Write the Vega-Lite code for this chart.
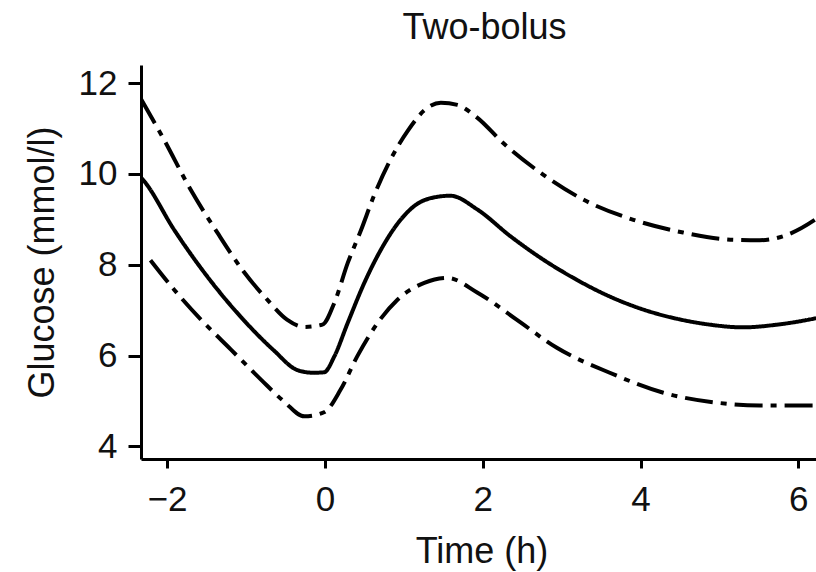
{
  "$schema": "https://vega.github.io/schema/vega-lite/v6.json",
  "autosize": {"type": "none"},
  "padding": {"left": 141, "top": 65, "right": 0, "bottom": 113},
  "width": 681,
  "height": 394,
  "background": "white",
  "config": {"view": {"stroke": null}, "font": "Liberation Sans"},
  "title": {"text": "Two-bolus", "fontSize": 36, "fontWeight": "normal", "font": "Liberation Sans", "color": "#111", "anchor": "middle", "frame": "group", "baseline": "alphabetic", "offset": -10, "dx": 3},
  "data": {"values": [
    {"t": -2.33, "g": 9.92, "s": "mean"},
    {"t": -2.29, "g": 9.84, "s": "mean"},
    {"t": -1.91, "g": 8.77, "s": "mean"},
    {"t": -1.49, "g": 7.74, "s": "mean"},
    {"t": -1.07, "g": 6.86, "s": "mean"},
    {"t": -0.645, "g": 6.11, "s": "mean"},
    {"t": -0.35, "g": 5.68, "s": "mean"},
    {"t": -0.15, "g": 5.62, "s": "mean"},
    {"t": -0.01, "g": 5.63, "s": "mean"},
    {"t": 0.12, "g": 5.98, "s": "mean"},
    {"t": 0.29, "g": 6.72, "s": "mean"},
    {"t": 0.5, "g": 7.6, "s": "mean"},
    {"t": 0.71, "g": 8.33, "s": "mean"},
    {"t": 0.96, "g": 8.99, "s": "mean"},
    {"t": 1.17, "g": 9.34, "s": "mean"},
    {"t": 1.35, "g": 9.47, "s": "mean"},
    {"t": 1.59, "g": 9.52, "s": "mean"},
    {"t": 1.93, "g": 9.22, "s": "mean"},
    {"t": 2.35, "g": 8.63, "s": "mean"},
    {"t": 2.77, "g": 8.11, "s": "mean"},
    {"t": 3.19, "g": 7.67, "s": "mean"},
    {"t": 3.61, "g": 7.3, "s": "mean"},
    {"t": 4.04, "g": 7.01, "s": "mean"},
    {"t": 4.46, "g": 6.81, "s": "mean"},
    {"t": 4.88, "g": 6.68, "s": "mean"},
    {"t": 5.3, "g": 6.62, "s": "mean"},
    {"t": 5.73, "g": 6.68, "s": "mean"},
    {"t": 6.19, "g": 6.81, "s": "mean"},
    {"t": 6.3, "g": 6.85, "s": "mean"},
    {"t": -2.33, "g": 11.65, "s": "upper"},
    {"t": -2.29, "g": 11.53, "s": "upper"},
    {"t": -2.04, "g": 10.76, "s": "upper"},
    {"t": -1.7, "g": 9.65, "s": "upper"},
    {"t": -1.36, "g": 8.7, "s": "upper"},
    {"t": -1.03, "g": 7.85, "s": "upper"},
    {"t": -0.73, "g": 7.23, "s": "upper"},
    {"t": -0.48, "g": 6.79, "s": "upper"},
    {"t": -0.26, "g": 6.63, "s": "upper"},
    {"t": -0.03, "g": 6.68, "s": "upper"},
    {"t": 0.12, "g": 7.16, "s": "upper"},
    {"t": 0.29, "g": 8.04, "s": "upper"},
    {"t": 0.46, "g": 8.77, "s": "upper"},
    {"t": 0.62, "g": 9.51, "s": "upper"},
    {"t": 0.83, "g": 10.31, "s": "upper"},
    {"t": 1.05, "g": 10.95, "s": "upper"},
    {"t": 1.26, "g": 11.4, "s": "upper"},
    {"t": 1.47, "g": 11.57, "s": "upper"},
    {"t": 1.68, "g": 11.52, "s": "upper"},
    {"t": 1.93, "g": 11.24, "s": "upper"},
    {"t": 2.26, "g": 10.68, "s": "upper"},
    {"t": 2.77, "g": 9.98, "s": "upper"},
    {"t": 3.28, "g": 9.43, "s": "upper"},
    {"t": 3.91, "g": 8.99, "s": "upper"},
    {"t": 4.54, "g": 8.71, "s": "upper"},
    {"t": 5.18, "g": 8.55, "s": "upper"},
    {"t": 5.51, "g": 8.54, "s": "upper"},
    {"t": 5.81, "g": 8.63, "s": "upper"},
    {"t": 6.21, "g": 8.99, "s": "upper"},
    {"t": 6.3, "g": 9.1, "s": "upper"},
    {"t": -2.21, "g": 8.1, "s": "lower"},
    {"t": -1.91, "g": 7.45, "s": "lower"},
    {"t": -1.57, "g": 6.79, "s": "lower"},
    {"t": -1.19, "g": 6.13, "s": "lower"},
    {"t": -0.81, "g": 5.47, "s": "lower"},
    {"t": -0.52, "g": 4.99, "s": "lower"},
    {"t": -0.26, "g": 4.66, "s": "lower"},
    {"t": -0.01, "g": 4.75, "s": "lower"},
    {"t": 0.2, "g": 5.25, "s": "lower"},
    {"t": 0.41, "g": 5.98, "s": "lower"},
    {"t": 0.67, "g": 6.72, "s": "lower"},
    {"t": 0.92, "g": 7.23, "s": "lower"},
    {"t": 1.26, "g": 7.6, "s": "lower"},
    {"t": 1.55, "g": 7.71, "s": "lower"},
    {"t": 1.93, "g": 7.39, "s": "lower"},
    {"t": 2.43, "g": 6.79, "s": "lower"},
    {"t": 2.94, "g": 6.17, "s": "lower"},
    {"t": 3.61, "g": 5.62, "s": "lower"},
    {"t": 4.29, "g": 5.18, "s": "lower"},
    {"t": 4.97, "g": 4.96, "s": "lower"},
    {"t": 5.51, "g": 4.9, "s": "lower"},
    {"t": 6.19, "g": 4.9, "s": "lower"},
    {"t": 6.3, "g": 4.9, "s": "lower"}
  ]},
  "mark": {"type": "line", "interpolate": "monotone", "color": "black", "strokeWidth": 4, "clip": true, "strokeCap": "butt"},
  "encoding": {
    "x": {"field": "t", "type": "quantitative",
      "scale": {"domain": [-2.33, 6.3], "nice": false, "zero": false},
      "axis": {"values": [-2, 0, 2, 4, 6], "grid": false, "title": "Time (h)",
        "domainColor": "black", "domainWidth": 3, "tickColor": "black", "tickWidth": 3, "tickSize": 9,
        "labelFontSize": 35, "labelFont": "Liberation Sans", "labelColor": "#111", "labelPadding": 14, "labelFlush": false,
        "titleFontSize": 36, "titleFontWeight": "normal", "titleFont": "Liberation Sans", "titleColor": "#111", "titlePadding": 17}},
    "y": {"field": "g", "type": "quantitative",
      "scale": {"domain": [3.72, 12.4], "nice": false, "zero": false},
      "axis": {"values": [4, 6, 8, 10, 12], "grid": false, "title": "Glucose (mmol/l)",
        "domainColor": "black", "domainWidth": 3, "tickColor": "black", "tickWidth": 3, "tickSize": 13,
        "labelFontSize": 35, "labelFont": "Liberation Sans", "labelColor": "#111", "labelPadding": 11, "labelFlush": false,
        "titleFontSize": 36, "titleFontWeight": "normal", "titleFont": "Liberation Sans", "titleColor": "#111", "titlePadding": 17}},
    "detail": {"field": "s"},
    "strokeDash": {"field": "s", "type": "nominal", "legend": null,
      "scale": {"domain": ["mean", "upper", "lower"], "range": [[1, 0], [28, 8, 6, 8], [28, 8, 6, 8]]}}
  }
}
